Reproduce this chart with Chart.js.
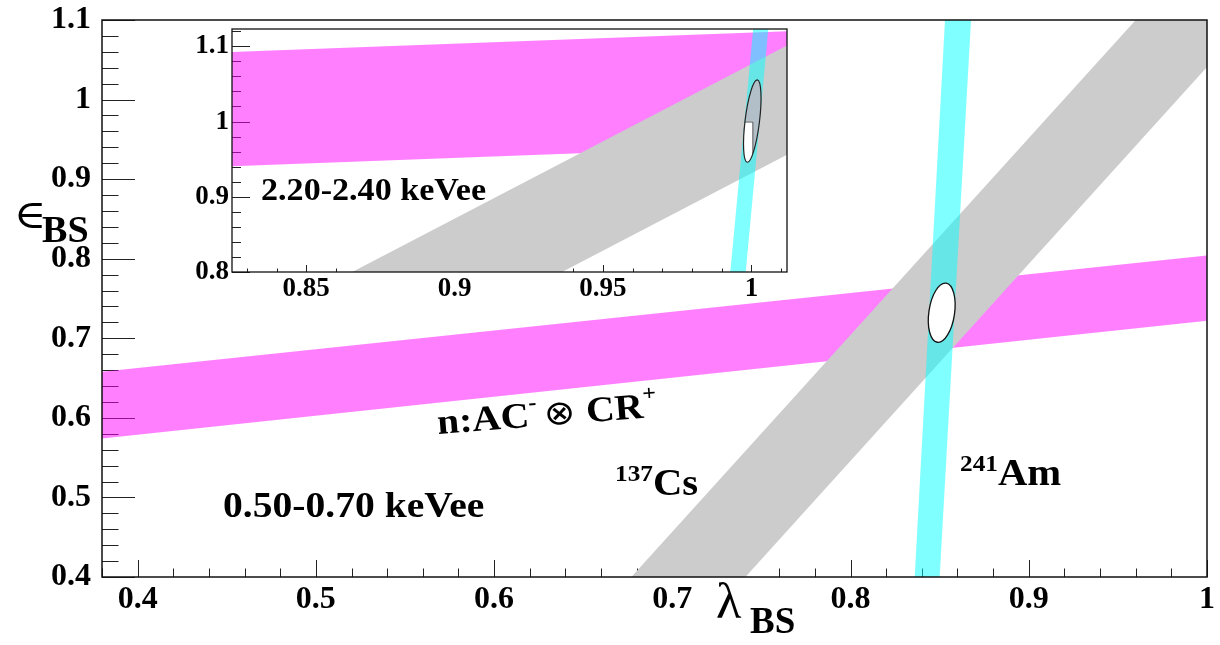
<!DOCTYPE html>
<html>
<head>
<meta charset="utf-8">
<script src="https://cdn.jsdelivr.net/npm/chart.js@4.4.0/dist/chart.umd.min.js"></script>
<style>
  html, body { margin: 0; padding: 0; background: #fff; }
  #wrap { position: relative; width: 1220px; height: 645px; overflow: hidden; }
  #mainChart { position: absolute; left: 0; top: 0; }
  #insetChart { position: absolute; left: 180px; top: 20px; }
</style>
</head>
<body>
<div id="wrap">
  <canvas id="mainChart" width="1220" height="645"></canvas>
  <canvas id="insetChart" width="620" height="290"></canvas>
</div>
<script>
// main panel: 0.50-0.70 keVee
const mainXRange = [0.38, 1.0];
const mainYRange = [0.4, 1.1];
const mainXTicks = [0.4, 0.5, 0.6, 0.7, 0.8, 0.9, 1.0];
const mainYTicks = [0.4, 0.5, 0.6, 0.7, 0.8, 0.9, 1.0, 1.1];

// band outlines, corners in drawing order (lambda, epsilon)
const mainAcLambda = [0.38, 1.0, 1.0, 0.38];
const mainAcEps    = [0.658, 0.804, 0.722, 0.574];
const mainCsLambda = [0.677, 0.960, 1.0, 1.0, 0.741];
const mainCsEps    = [0.4, 1.1, 1.1, 1.041, 0.4];
const mainAmLambda = [0.836, 0.853, 0.8676, 0.850];
const mainAmEps    = [0.4, 1.1, 1.1, 0.4];
// best-fit contour: top point, bottom point, half width (lambda units)
const mainContour = [0.8536, 0.7693, 0.8487, 0.695, 0.0072];

// inset: 2.20-2.40 keVee
const insetXRange = [0.825, 1.012];
const insetYRange = [0.8, 1.123];
const insetXTicks = [0.85, 0.9, 0.95, 1.0];
const insetYTicks = [0.8, 0.9, 1.0, 1.1];

const insetAcLambda = [0.825, 1.012, 1.012, 0.825];
const insetAcEps    = [1.0924, 1.12, 0.968, 0.9406];
const insetCsLambda = [0.8655, 1.012, 1.012, 0.9362];
const insetCsEps    = [0.8, 1.1012, 0.956, 0.8];
const insetAmLambda = [0.9929, 1.0006, 1.0057, 0.9981];
const insetAmEps    = [0.8, 1.123, 1.123, 0.8];
const insetContour  = [1.002, 1.0553, 0.9986, 0.9459, 0.00243];
const insetContourCut = [1.0005, 1.0];

const PINK = 'rgba(255, 0, 255, 0.5)';
const GRAY = 'rgb(204, 204, 204)';
const CYAN = 'rgba(0, 255, 255, 0.5)';
const SERIF = '"Liberation Serif", "Times New Roman", serif';

function toPoints(xs, ys) {
  return xs.map((x, i) => ({ x, y: ys[i] }));
}

function band(xs, ys, color, order) {
  return {
    data: toPoints(xs, ys),
    borderColor: 'transparent',
    borderWidth: 0,
    backgroundColor: color,
    fill: 'shape',
    pointRadius: 0,
    tension: 0,
    order
  };
}

function fmt(v) {
  return String(Number(v.toFixed(3)));
}

// ROOT style ticks, drawn inside the frame
function drawInnerTicks(chart, o) {
  const { ctx, chartArea: a, scales: { x, y } } = chart;
  ctx.save();
  ctx.strokeStyle = '#222';
  ctx.lineWidth = 1;
  ctx.beginPath();
  const isMajor = (v, list) => list.some(t => Math.abs(t - v) < 1e-6);
  for (let k = Math.ceil(x.min / o.xStep - 1e-6); k * o.xStep <= x.max + 1e-6; k++) {
    const v = k * o.xStep;
    const px = Math.round(x.getPixelForValue(v)) + 0.5;
    const len = isMajor(v, o.xTicks) ? o.xMajor : o.xMajor / 2;
    ctx.moveTo(px, a.bottom);
    ctx.lineTo(px, a.bottom - len);
  }
  for (let k = Math.ceil(y.min / o.yStep - 1e-6); k * o.yStep <= y.max + 1e-6; k++) {
    const v = k * o.yStep;
    const py = Math.round(y.getPixelForValue(v)) + 0.5;
    const len = isMajor(v, o.yTicks) ? o.yMajor : o.yMajor / 2;
    ctx.moveTo(a.left, py);
    ctx.lineTo(a.left + len, py);
  }
  ctx.stroke();
  ctx.restore();
}

function drawFrame(chart, lw) {
  const { ctx, chartArea: a } = chart;
  ctx.save();
  ctx.strokeStyle = '#111';
  ctx.lineWidth = lw;
  ctx.strokeRect(a.left, a.top, a.right - a.left, a.bottom - a.top);
  ctx.restore();
}

function contourPath(chart, c) {
  const { ctx, scales: { x, y } } = chart;
  const x1 = x.getPixelForValue(c[0]), y1 = y.getPixelForValue(c[1]);
  const x2 = x.getPixelForValue(c[2]), y2 = y.getPixelForValue(c[3]);
  const ra = Math.hypot(x2 - x1, y2 - y1) / 2;
  const rb = Math.abs(x.getPixelForValue(c[0] + c[4]) - x1);
  const rot = Math.atan2(-(x2 - x1), y2 - y1);
  ctx.beginPath();
  ctx.ellipse((x1 + x2) / 2, (y1 + y2) / 2, rb, ra, rot, 0, Math.PI * 2);
}

// text with sub / superscript pieces, slightly widened like the original
function richText(ctx, x, y, parts, angle, sx) {
  ctx.save();
  ctx.translate(x, y);
  if (angle) ctx.rotate(angle * Math.PI / 180);
  ctx.scale(sx || 1.1, 1);
  ctx.fillStyle = '#000';
  ctx.textBaseline = 'alphabetic';
  ctx.textAlign = 'left';
  let cx = 0;
  for (const p of parts) {
    ctx.font = p.font;
    ctx.fillText(p.t, cx, p.dy || 0);
    cx += ctx.measureText(p.t).width + (p.gap || 0);
  }
  ctx.restore();
}

const B = s => 'bold ' + s + 'px ' + SERIF;
const R = s => s + 'px ' + SERIF;

function axisOptions(range, ticks, size, pad, fitFn) {
  return {
    type: 'linear',
    min: range[0],
    max: range[1],
    grid: { display: false, drawTicks: false },
    border: { display: false },
    afterBuildTicks: s => { s.ticks = ticks.map(v => ({ value: v })); },
    afterFit: s => {
      fitFn(s);
      s.paddingLeft = 0; s.paddingRight = 0; s.paddingTop = 0; s.paddingBottom = 0;
    },
    ticks: {
      autoSkip: false,
      maxRotation: 0,
      padding: pad,
      color: '#000',
      font: { family: SERIF, weight: 'bold', size },
      callback: v => fmt(v)
    }
  };
}

const mainDecor = {
  id: 'mainDecor',
  beforeDatasetsDraw(chart) {
    drawInnerTicks(chart, { xStep: 0.02, yStep: 0.02, xTicks: mainXTicks, yTicks: mainYTicks, xMajor: 17, yMajor: 33 });
  },
  afterDatasetsDraw(chart) {
    const ctx = chart.ctx;
    ctx.save();
    contourPath(chart, mainContour);
    ctx.fillStyle = '#fff';
    ctx.fill();
    ctx.strokeStyle = '#111';
    ctx.lineWidth = 1.3;
    ctx.stroke();
    ctx.restore();
    drawFrame(chart, 1.5);

    // labels
    richText(ctx, 223, 517, [{ t: '0.50-0.70 keVee', font: B(36) }]);
    richText(ctx, 438, 434, [
      { t: 'n:AC', font: B(36) },
      { t: '-', font: B(22), dy: -17, gap: 6 },
      { t: '\u2297', font: '34px "DejaVu Sans", sans-serif', gap: 10 },
      { t: 'CR', font: B(36) },
      { t: '+', font: B(22), dy: -17 }
    ], -4.5);
    richText(ctx, 615, 495, [
      { t: '137', font: B(23), dy: -14 },
      { t: 'Cs', font: B(37) }
    ]);
    richText(ctx, 960, 485, [
      { t: '241', font: B(23), dy: -14 },
      { t: 'Am', font: B(37) }
    ]);
    // axis titles
    richText(ctx, 716, 618, [{ t: '\u03bb', font: R(50) }], 0, 1.05);
    richText(ctx, 750, 633, [{ t: 'BS', font: B(37) }], 0, 1);
    richText(ctx, 14, 228, [{ t: '\u2208', font: '40px "DejaVu Serif", serif' }]);
    richText(ctx, 42, 242, [{ t: 'BS', font: B(37) }], 0, 1.03);
  }
};

const insetDecor = {
  id: 'insetDecor',
  beforeDatasetsDraw(chart) {
    const { ctx, chartArea: a } = chart;
    ctx.save();
    ctx.fillStyle = '#fff';
    ctx.fillRect(a.left, a.top, a.right - a.left, a.bottom - a.top);
    ctx.restore();
    drawInnerTicks(chart, { xStep: 0.01, yStep: 0.02, xTicks: insetXTicks, yTicks: insetYTicks, xMajor: 7, yMajor: 18 });
  },
  afterDatasetsDraw(chart) {
    const { ctx, scales: { x, y } } = chart;
    ctx.save();
    contourPath(chart, insetContour);
    ctx.fillStyle = 'rgb(178, 190, 200)';
    ctx.fill();
    ctx.save();
    ctx.clip();
    const cx = x.getPixelForValue(insetContourCut[0]);
    const cy = y.getPixelForValue(insetContourCut[1]);
    ctx.fillStyle = '#fff';
    ctx.fillRect(cx - 40, cy, 40, 60);
    ctx.strokeStyle = '#555';
    ctx.lineWidth = 1;
    ctx.beginPath();
    ctx.moveTo(cx - 40, cy + 0.5);
    ctx.lineTo(cx, cy + 0.5);
    ctx.lineTo(cx, cy + 60);
    ctx.stroke();
    ctx.restore();
    contourPath(chart, insetContour);
    ctx.strokeStyle = '#222';
    ctx.lineWidth = 1.2;
    ctx.stroke();
    ctx.restore();
    drawFrame(chart, 1.3);
    richText(ctx, 81, 180, [{ t: '2.20-2.40 keVee', font: B(31) }]);
  }
};

new Chart(document.getElementById('mainChart'), {
  type: 'line',
  data: {
    datasets: [
      band(mainAcLambda, mainAcEps, PINK, 3),
      band(mainCsLambda, mainCsEps, GRAY, 2),
      band(mainAmLambda, mainAmEps, CYAN, 1)
    ]
  },
  options: {
    responsive: false,
    animation: false,
    events: [],
    layout: { padding: { left: 0, top: 20, right: 13, bottom: 0 } },
    plugins: { legend: { display: false }, tooltip: { enabled: false } },
    scales: {
      x: axisOptions(mainXRange, mainXTicks, 32, 4, s => { s.height = 68; }),
      y: axisOptions(mainYRange, mainYTicks, 32, 11, s => { s.width = 102; })
    }
  },
  plugins: [mainDecor]
});

new Chart(document.getElementById('insetChart'), {
  type: 'line',
  data: {
    datasets: [
      band(insetAcLambda, insetAcEps, PINK, 3),
      band(insetCsLambda, insetCsEps, GRAY, 2),
      band(insetAmLambda, insetAmEps, CYAN, 1)
    ]
  },
  options: {
    responsive: false,
    animation: false,
    events: [],
    layout: { padding: { left: 0, top: 9, right: 13, bottom: 0 } },
    plugins: { legend: { display: false }, tooltip: { enabled: false } },
    scales: {
      x: axisOptions(insetXRange, insetXTicks, 27, 1, s => { s.height = 38; }),
      y: axisOptions(insetYRange, insetYTicks, 27, 3, s => { s.width = 52; })
    }
  },
  plugins: [insetDecor]
});
</script>
</body>
</html>
